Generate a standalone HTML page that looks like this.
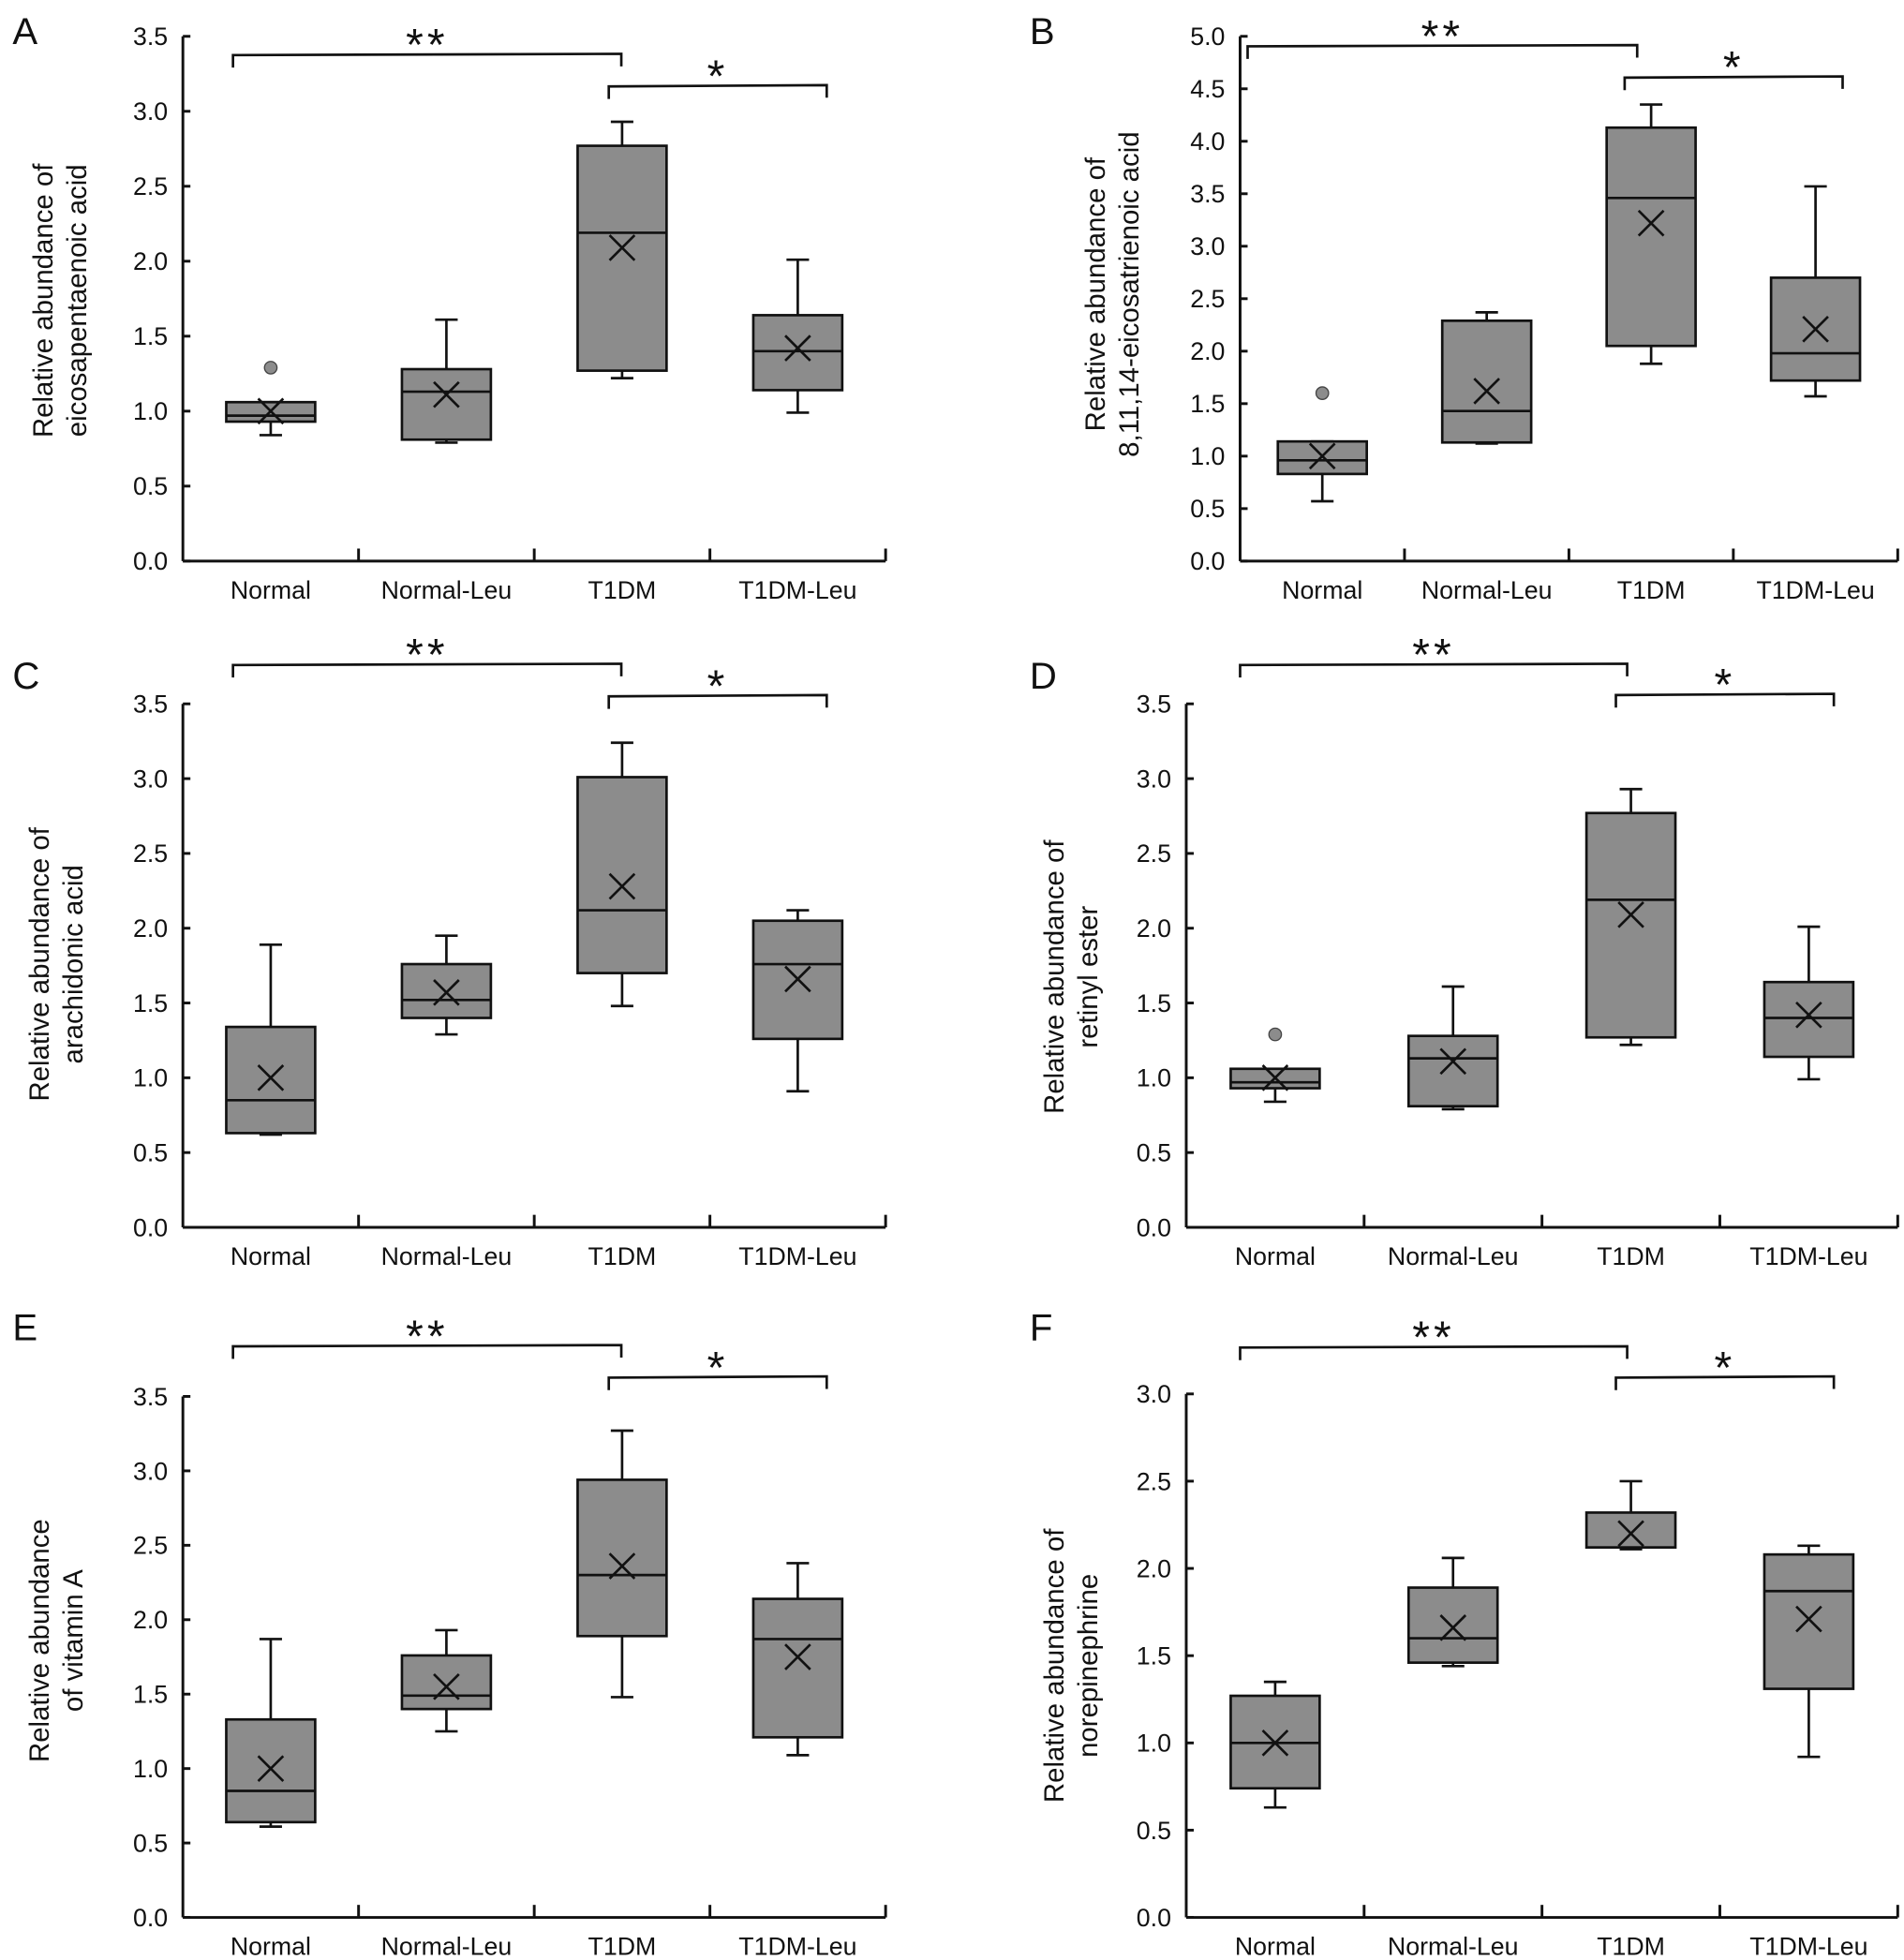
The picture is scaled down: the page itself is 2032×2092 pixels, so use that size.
<!DOCTYPE html>
<html><head><meta charset="utf-8"><style>
html,body{margin:0;padding:0;background:#fff}
svg{display:block}
text{font-family:"Liberation Sans",sans-serif;fill:#111}
</style></head><body>
<svg id="fig" width="2032" height="2092" viewBox="0 0 1520 1565" preserveAspectRatio="none" xmlns="http://www.w3.org/2000/svg"></svg>
<script>
const categories = ["Normal","Normal-Leu","T1DM","T1DM-Leu"];
// each box: [min, q1, median, q3, max, mean]
const dataA = [[0.84,0.93,0.97,1.06,1.06,1.0],[0.79,0.81,1.13,1.28,1.61,1.11],[1.22,1.27,2.19,2.77,2.93,2.09],[0.99,1.14,1.40,1.64,2.01,1.42]];
const dataB = [[0.57,0.83,0.96,1.14,1.14,1.0],[1.12,1.13,1.43,2.29,2.37,1.62],[1.88,2.05,3.46,4.13,4.35,3.22],[1.57,1.72,1.98,2.70,3.57,2.21]];
const dataC = [[0.62,0.63,0.85,1.34,1.89,1.0],[1.29,1.40,1.52,1.76,1.95,1.57],[1.48,1.70,2.12,3.01,3.24,2.28],[0.91,1.26,1.76,2.05,2.12,1.66]];
const dataD = [[0.84,0.93,0.97,1.06,1.06,1.0],[0.79,0.81,1.13,1.28,1.61,1.11],[1.22,1.27,2.19,2.77,2.93,2.09],[0.99,1.14,1.40,1.64,2.01,1.42]];
const dataE = [[0.61,0.64,0.85,1.33,1.87,1.0],[1.25,1.40,1.49,1.76,1.93,1.55],[1.48,1.89,2.30,2.94,3.27,2.36],[1.09,1.21,1.87,2.14,2.38,1.75]];
const dataF = [[0.63,0.74,1.0,1.27,1.35,1.0],[1.44,1.46,1.60,1.89,2.06,1.66],[2.11,2.12,2.12,2.32,2.50,2.20],[0.92,1.31,1.87,2.08,2.13,1.71]];
const outliersA = [[0,1.29]];
const outliersB = [[0,1.6]];
const outliersD = [[0,1.29]];
const ticks35 = ["0.0","0.5","1.0","1.5","2.0","2.5","3.0","3.5"];
const ticks50 = ["0.0","0.5","1.0","1.5","2.0","2.5","3.0","3.5","4.0","4.5","5.0"];
const ticks30 = ["0.0","0.5","1.0","1.5","2.0","2.5","3.0"];

const NS="http://www.w3.org/2000/svg";
const svg=document.getElementById('fig');
function mk(tag,attrs,parent,txt){const e=document.createElementNS(NS,tag);for(const k in attrs)e.setAttribute(k,attrs[k]);if(txt!==undefined)e.textContent=txt;(parent||svg).appendChild(e);return e;}

const panels=[
 {id:'A',data:dataA,out:outliersA,ticks:ticks35,ax:146,ay0:448,ayTop:29,axEnd:707,lx:10,ly:35,lab:["Relative abundance of","eicosapentaenoic acid"],labX:48,labY:240,b1:[186,496,44],b2:[486,660,69]},
 {id:'B',data:dataB,out:outliersB,ticks:ticks50,ax:990,ay0:448,ayTop:29,axEnd:1515,lx:822,ly:35,lab:["Relative abundance of","8,11,14-eicosatrienoic acid"],labX:888,labY:235,b1:[996,1307,37],b2:[1297,1471,62]},
 {id:'C',data:dataC,out:[],ticks:ticks35,ax:146,ay0:980,ayTop:562,axEnd:707,lx:10,ly:550,lab:["Relative abundance of","arachidonic acid"],labX:45,labY:770,b1:[186,496,531],b2:[486,660,556]},
 {id:'D',data:dataD,out:outliersD,ticks:ticks35,ax:947,ay0:980,ayTop:562,axEnd:1515,lx:822,ly:550,lab:["Relative abundance of","retinyl ester"],labX:855,labY:780,b1:[990,1299,531],b2:[1290,1464,555]},
 {id:'E',data:dataE,out:[],ticks:ticks35,ax:146,ay0:1531,ayTop:1115,axEnd:707,lx:10,ly:1070,lab:["Relative abundance","of vitamin A"],labX:45,labY:1310,b1:[186,496,1075],b2:[486,660,1100]},
 {id:'F',data:dataF,out:[],ticks:ticks30,ax:947,ay0:1531,ayTop:1113,axEnd:1515,lx:822,ly:1070,lab:["Relative abundance of","norepinephrine"],labX:855,labY:1330,b1:[990,1299,1076],b2:[1290,1464,1100]}
];

panels.forEach(p=>{
 const g=mk('g',{});
 
 
 const maxV=parseFloat(p.ticks[p.ticks.length-1]);
 const y=v=>p.ay0-(v/maxV)*(p.ay0-p.ayTop);
 const bw=(p.axEnd-p.ax)/categories.length;
 const x=i=>p.ax+bw*(i+0.5);
 const t=mk('text',{x:p.lx,y:p.ly,'font-size':30},g,p.id);
 
 const ya=mk('line',{x1:p.ax,y1:p.ay0,x2:p.ax,y2:p.ayTop,stroke:'#111','stroke-width':2.2},g);
 
 p.ticks.forEach(tk=>{const v=parseFloat(tk);
  mk('line',{x1:p.ax,y1:y(v),x2:p.ax+6,y2:y(v),stroke:'#111','stroke-width':2.2},g);
  const tl=mk('text',{x:p.ax-12,y:y(v)+7,'font-size':20,'text-anchor':'end'},g,tk);
  
 });
 const xa=mk('line',{x1:p.ax,y1:p.ay0,x2:p.axEnd,y2:p.ay0,stroke:'#111','stroke-width':2.2},g);
 
 for(let i=1;i<=categories.length;i++){mk('line',{x1:p.ax+bw*i,y1:p.ay0,x2:p.ax+bw*i,y2:p.ay0-10,stroke:'#111','stroke-width':2.2},g);}
 categories.forEach((c,i)=>{const cl=mk('text',{x:x(i),y:p.ay0+30,'font-size':20,'text-anchor':'middle'},g,c);
  });
 const yl=mk('text',{transform:`translate(${p.labX},${p.labY}) rotate(-90)`,'font-size':22,'text-anchor':'middle'},g);
 
 mk('tspan',{x:0,y:-6},yl,p.lab[0]);mk('tspan',{x:0,y:21},yl,p.lab[1]);
 const w=71;
 p.data.forEach((d,i)=>{
  const cx=x(i);
  const bg=mk('g',{},g);
  
  mk('line',{x1:cx,y1:y(d[0]),x2:cx,y2:y(d[4]),stroke:'#111','stroke-width':2},bg);
  mk('line',{x1:cx-9,y1:y(d[0]),x2:cx+9,y2:y(d[0]),stroke:'#111','stroke-width':2},bg);
  mk('line',{x1:cx-9,y1:y(d[4]),x2:cx+9,y2:y(d[4]),stroke:'#111','stroke-width':2},bg);
  mk('rect',{x:cx-w/2,y:y(d[3]),width:w,height:y(d[1])-y(d[3]),fill:'#8c8c8c',stroke:'#111','stroke-width':2},bg);
  mk('line',{x1:cx-w/2,y1:y(d[2]),x2:cx+w/2,y2:y(d[2]),stroke:'#111','stroke-width':2},bg);
  const my=y(d[5]);
  mk('path',{d:`M${cx-10} ${my-10}L${cx+10} ${my+10}M${cx-10} ${my+10}L${cx+10} ${my-10}`,stroke:'#111','stroke-width':2,fill:'none'},bg);
 });
 p.out.forEach(o=>{const c=mk('circle',{cx:x(o[0]),cy:y(o[1]),r:5,fill:'#8c8c8c',stroke:'#444','stroke-width':1},g);
  });
 [[p.b1,'**'],[p.b2,'*']].forEach(([b,s])=>{
  const bk=mk('path',{d:`M${b[0]} ${b[2]+10}L${b[0]} ${b[2]}L${b[1]} ${b[2]-1}L${b[1]} ${b[2]+9}`,stroke:'#111','stroke-width':2,fill:'none'},g);
  
  const st=mk('text',{x:(b[0]+b[1])/2,y:b[2]+4,'font-size':36,'text-anchor':'middle','letter-spacing':'3'},g,s);
  
 });
});
</script>
</body></html>
